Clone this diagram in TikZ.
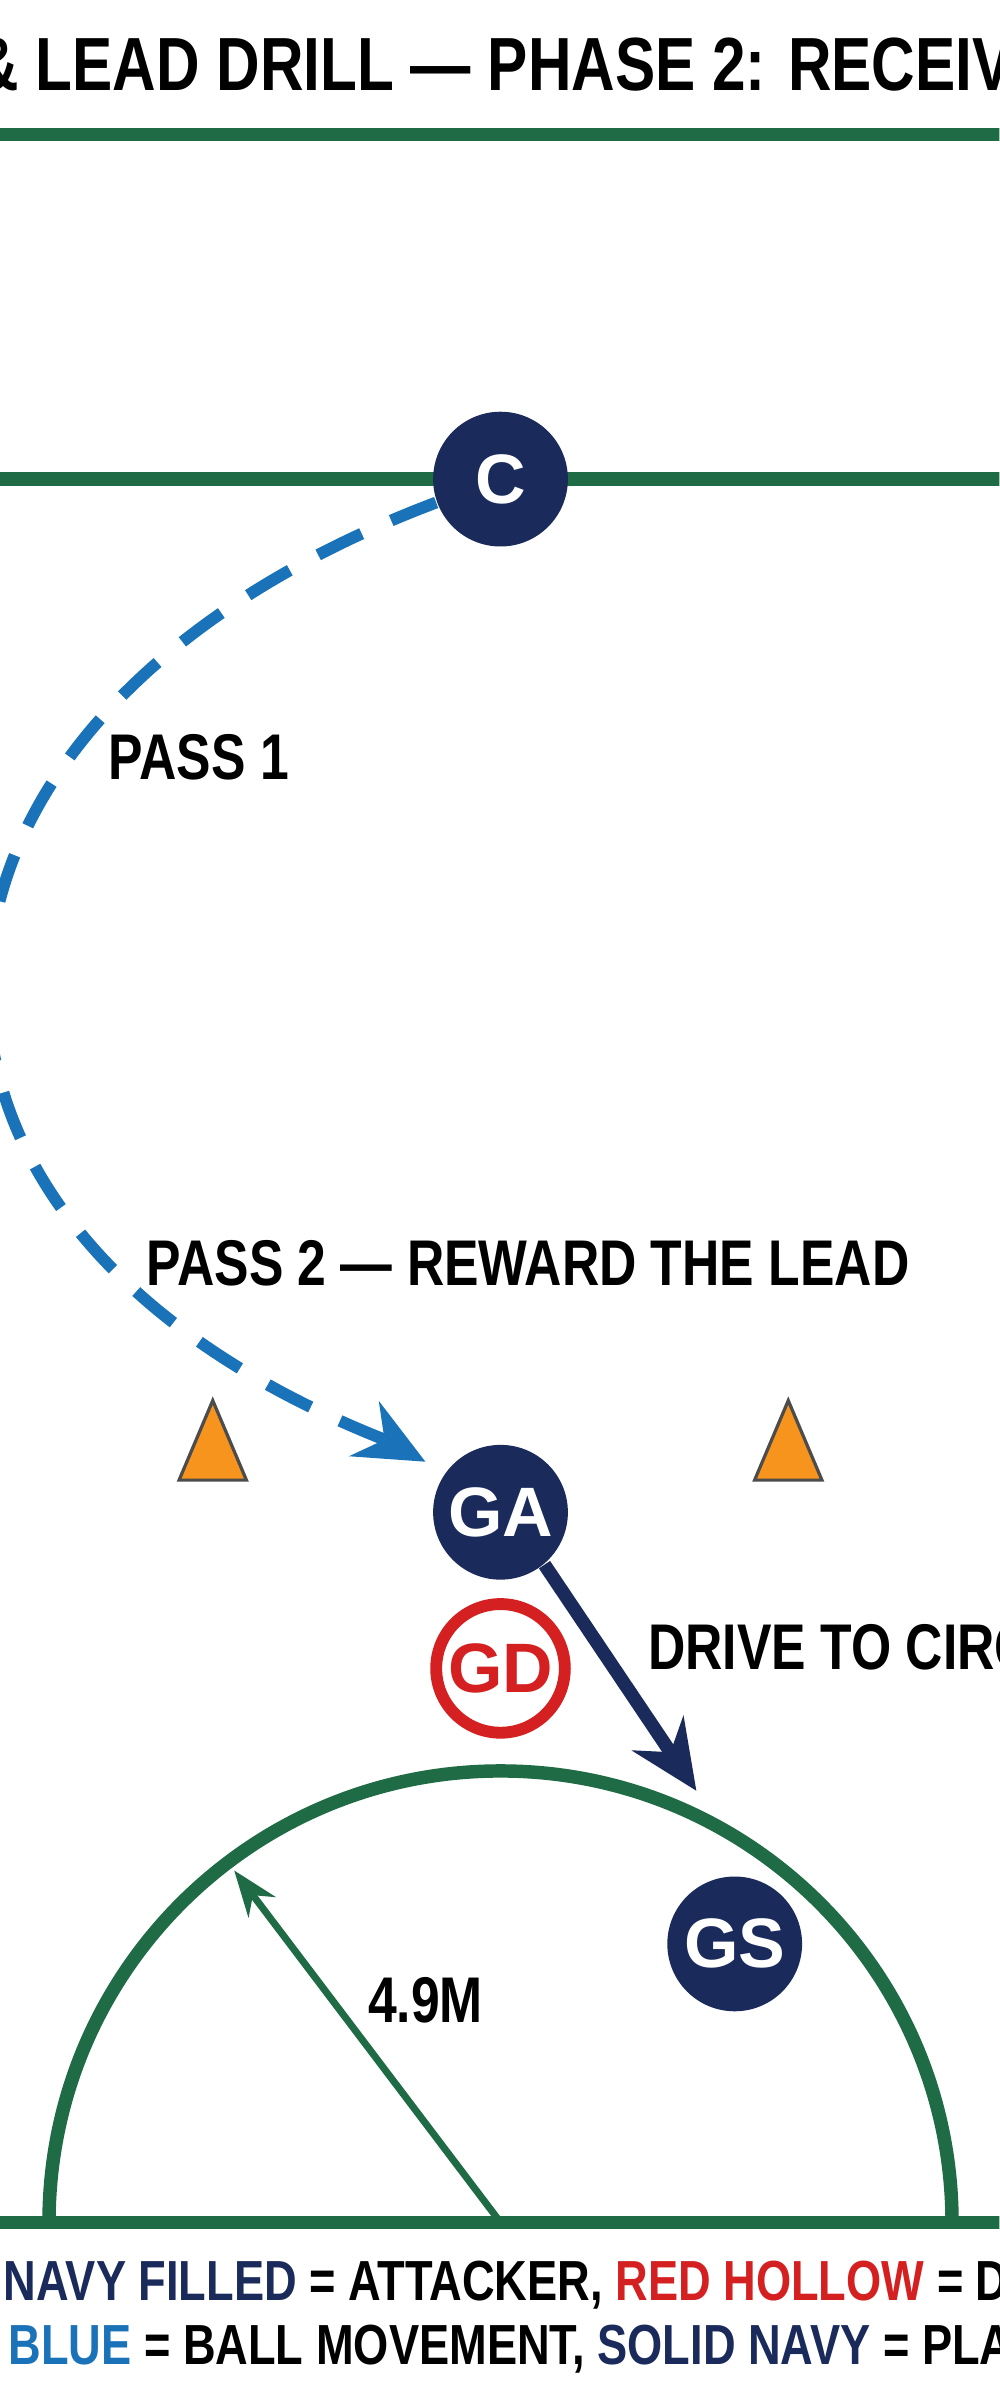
\documentclass[tikz,border=0pt]{standalone}
\usepackage{fontspec}
\setmainfont{Liberation Sans}
\usetikzlibrary{arrows.meta}
\definecolor{grn}{HTML}{1F6B45}
\definecolor{navy}{HTML}{1A2A5A}
\definecolor{bl}{HTML}{1A73B8}
\definecolor{rd}{HTML}{D42020}
\definecolor{org}{HTML}{F7941D}
\begin{document}
\begin{tikzpicture}[x=0.01cm,y=-0.01cm,
  lbl/.style={font=\bfseries\fontsize{12}{14}\selectfont,xscale=0.8,inner sep=0},
  leg/.style={font=\bfseries\fontsize{10.5}{12}\selectfont,xscale=0.8,inner sep=0},
  att/.style={circle,fill=navy,minimum size=0.88cm,inner sep=0,text=white,font=\bfseries\fontsize{13}{15}\selectfont},
  def/.style={circle,draw=rd,line width=2.2pt,fill=white,minimum size=0.84cm,inner sep=0,text=rd,font=\bfseries\fontsize{13}{15}\selectfont},
  court/.style={draw=grn,line width=2.5pt},
  cone/.style={draw=black!70,fill=org,line width=0.6pt}]
\useasboundingbox (0,0) rectangle (653,1568);
\clip (0,0) rectangle (653,1568);
\fill[white] (0,0) rectangle (653,1568);
\node[lbl,anchor=center,font=\bfseries\fontsize{14}{16}\selectfont] (title) at (336,42) {\& LEAD DRILL — PHASE 2: RECEIVE};
\draw[court] (-10,88) -- (663,88);
\draw[court] (-10,313) -- (663,313);
\draw[court] (-10,1452) -- (663,1452);
\draw[court] (32,1452) arc[start angle=180,end angle=360,radius=295];
\node[att] (C) at (327,313) {C};
\node[att] (GA) at (327,988) {GA};
\node[def] (GD) at (327,1090) {GD};
\node[att] (GS) at (480,1270) {GS};
\coordinate (ctr) at (327,1452);
\coordinate (rad) at (153,1222);
\draw[grn,line width=1.3pt,-{Stealth[length=0.3cm,width=0.22cm]}] (ctr) -- (rad);
\node[lbl] (r) at (278,1307) {4.9M};
\draw[bl,line width=2.2pt,dash pattern=on 9pt off 6pt] (C.200) .. controls (-90,470) and (-110,800) .. (255,942);
\coordinate (tip) at (278,955);
\draw[bl,line width=2.2pt,-{Stealth[length=0.45cm,width=0.4cm]}] (252,941) -- (tip);
\node[lbl] (p1) at (130,495) {PASS 1};
\node[lbl] (p2) at (345,825) {PASS 2 — REWARD THE LEAD};
\draw[cone] (117,967) -- (139,915) -- (161,967) -- cycle;
\draw[cone] (493,967) -- (515,915) -- (537,967) -- cycle;
\coordinate (dr) at (455,1170);
\draw[navy,line width=2.5pt,-{Stealth[length=0.45cm,width=0.4cm]}] (GA.-50) -- (dr);
\node[lbl,anchor=west] (drive) at (423,1076) {DRIVE TO CIRCLE};
\node[leg,anchor=west] (l1) at (2,1493) {\textcolor{navy}{NAVY FILLED} = ATTACKER, \textcolor{rd}{RED HOLLOW} = DEFENDER};
\node[leg,anchor=west] (l2) at (5,1535) {\textcolor{bl}{BLUE} = BALL MOVEMENT, \textcolor{navy}{SOLID NAVY} = PLAYER};
\end{tikzpicture}
\end{document}
